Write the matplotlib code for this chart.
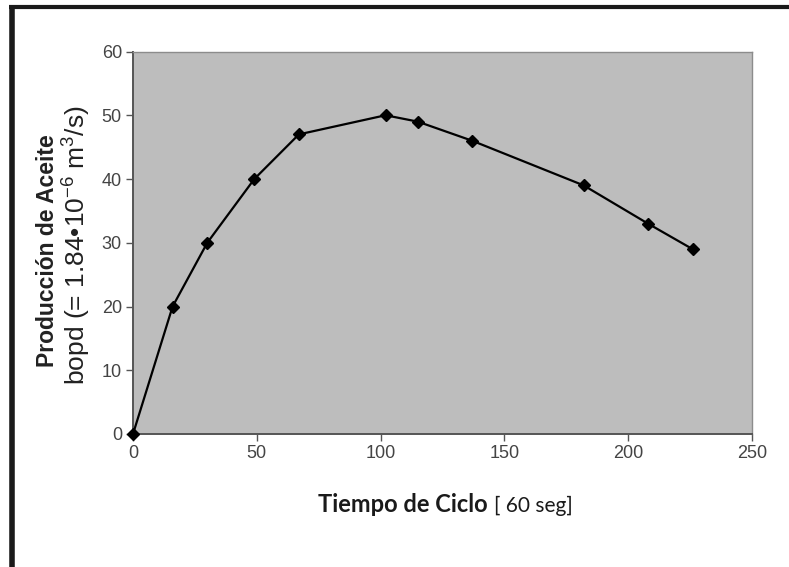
import matplotlib
matplotlib.use("Agg")
import matplotlib.pyplot as plt
from matplotlib.lines import Line2D

# Data
tiempo = [0, 16, 30, 49, 67, 102, 115, 137, 182, 208, 226]
produccion = [0, 20, 30, 40, 47, 50, 49, 46, 39, 33, 29]
x_ticks = [0, 50, 100, 150, 200, 250]
y_ticks = [0, 10, 20, 30, 40, 50, 60]

plt.rcParams['mathtext.fontset'] = 'custom'
plt.rcParams['mathtext.rm'] = 'Liberation Sans'
plt.rcParams['mathtext.it'] = 'Liberation Sans'

fig = plt.figure(figsize=(7.89, 5.67), dpi=100)
fig.patch.set_facecolor('white')

ax = fig.add_axes([133/789, 1 - 434/567, (752 - 133)/789, (434 - 51.5)/567])
ax.set_facecolor('#bdbdbd')
ax.plot(tiempo, produccion, color='black', linewidth=1.6, marker='D',
        markersize=6, markerfacecolor='black', markeredgecolor='black',
        clip_on=False, zorder=5)
ax.set_xlim(0, 250)
ax.set_ylim(0, 60)
ax.set_xticks(x_ticks)
ax.set_yticks(y_ticks)

for lab in ax.get_xticklabels() + ax.get_yticklabels():
    lab.set_fontfamily('Liberation Sans')
    lab.set_fontsize(13)
    lab.set_color('#444444')
ax.tick_params(axis='both', direction='out', length=5, width=1, color='#555555', pad=3)

for s in ['left', 'bottom']:
    ax.spines[s].set_color('#555555')
    ax.spines[s].set_linewidth(1.4)
for s in ['top', 'right']:
    ax.spines[s].set_color('#8c8c8c')
    ax.spines[s].set_linewidth(1.0)

# Y-axis label (two lines)
fig.text(48/789, 1 - 251/567, 'Producción de Aceite', rotation=90,
         ha='center', va='center', fontsize=16.5, fontweight='bold',
         family='Liberation Sans', color='#222222')
fig.text(77/789, 1 - 245/567, r'bopd (= 1.84•10$^{-6}$ m$^{3}$/s)', rotation=90,
         ha='center', va='center', fontsize=19,
         family='Liberation Sans', color='#222222')

# X-axis label
fig.text(488/789, 1 - 512/567, 'Tiempo de Ciclo', ha='right', va='baseline',
         fontsize=17, fontweight='bold', family='Lato', color='#1a1a1a')
fig.text(494/789, 1 - 512/567, '[ 60 seg]', ha='left', va='baseline',
         fontsize=15, family='Lato', color='#1a1a1a')

# Outer frame (top and left black borders)
fig.add_artist(Line2D([9/789, 1], [1 - 7/567, 1 - 7/567], transform=fig.transFigure,
                      color='#1a1a1a', linewidth=3.0, solid_capstyle='butt'))
fig.add_artist(Line2D([12/789, 12/789], [0, 1 - 5/567], transform=fig.transFigure,
                      color='#1a1a1a', linewidth=4.0, solid_capstyle='butt'))

fig.savefig('out.png', dpi=100)
